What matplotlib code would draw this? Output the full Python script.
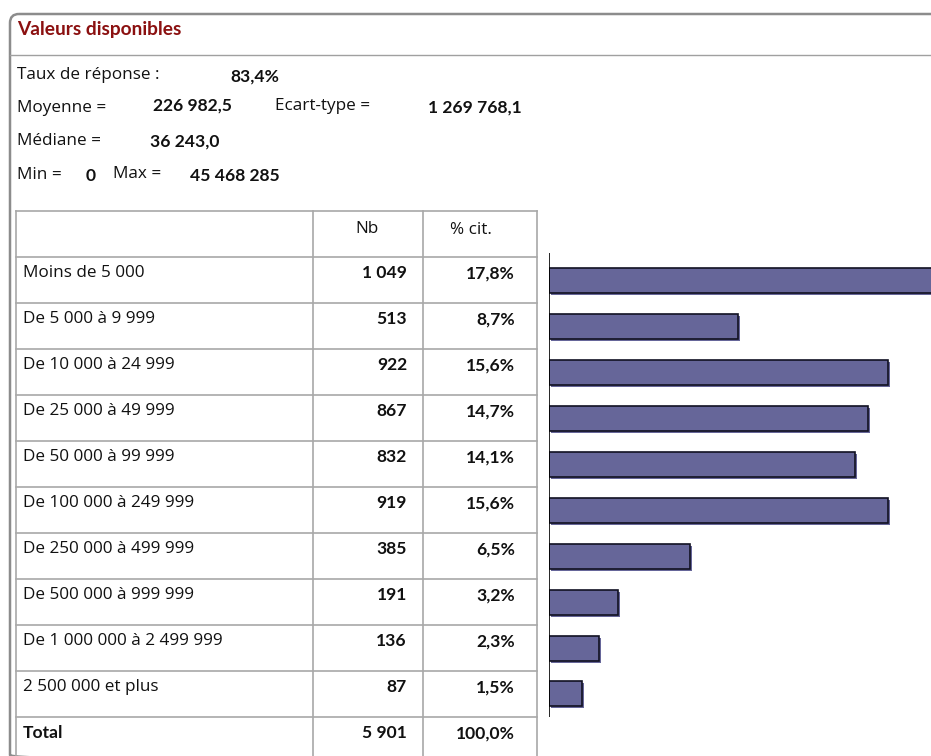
import matplotlib
matplotlib.use("Agg")
import matplotlib.pyplot as plt
from matplotlib.patches import FancyBboxPatch
from matplotlib import transforms

# ---------------- data ----------------
title = "Valeurs disponibles"
stat_labels = ["Taux de réponse :", "Moyenne =", "Ecart-type =", "Médiane =", "Min =", "Max ="]
stat_values = ["83,4%", "226 982,5", "1 269 768,1", "36 243,0", "0", "45 468 285"]
categories = ["Moins de 5 000", "De 5 000 à 9 999", "De 10 000 à 24 999", "De 25 000 à 49 999",
              "De 50 000 à 99 999", "De 100 000 à 249 999", "De 250 000 à 499 999",
              "De 500 000 à 999 999", "De 1 000 000 à 2 499 999", "2 500 000 et plus"]
counts = [1049, 513, 922, 867, 832, 919, 385, 191, 136, 87]
percents = [17.8, 8.7, 15.6, 14.7, 14.1, 15.6, 6.5, 3.2, 2.3, 1.5]
total_count = 5901
total_pct = 100.0
col_headers = ["Nb", "% cit."]

def fmt_int(v):
    return f"{v:,}".replace(",", " ")

def fmt_pct(v):
    return f"{v:.1f}%".replace(".", ",")

W, H = 931, 756
FONT = "Open Sans"
BFONT = "Lato"
fig = plt.figure(figsize=(W / 100, H / 100), dpi=100)
ax = fig.add_axes([0, 0, 1, 1])
ax.set_xlim(0, W)
ax.set_ylim(H, 0)
ax.axis("off")

grey = "#8c8c8c"
# frame
frame = FancyBboxPatch((10, 14), 960, 750, boxstyle="round,pad=0,rounding_size=9",
                       fill=False, edgecolor=grey, lw=1.8, clip_on=True)
ax.add_patch(frame)
ax.plot([10, W], [55, 55], color="#a0a0a0", lw=1)

ax.text(17, 30, title, color="#8b1010", fontsize=13.8, fontweight="bold",
        family=BFONT, va="center", ha="left")

fs = 12.3
fsb = 12.6
def lab(x, y, s, bold=False):
    ax.text(x, y, s, fontsize=fsb if bold else fs, family=BFONT if bold else FONT,
            va="center", ha="left", fontweight="bold" if bold else "normal", color="#111111")

lab(17, 75, stat_labels[0]); lab(230, 77, stat_values[0], True)
lab(17, 108, stat_labels[1]); lab(153, 106, stat_values[1], True)
lab(275, 106, stat_labels[2]); lab(428, 108, stat_values[2], True)
lab(17, 141, stat_labels[3]); lab(150, 142, stat_values[3], True)
lab(17, 175, stat_labels[4]); lab(86, 176, stat_values[4], True)
lab(113, 174, stat_labels[5]); lab(190, 176, stat_values[5], True)

# table
cols = [16, 313, 423, 537]
top, head_bot, row_h = 211, 257, 46
n = len(categories)
bottom = head_bot + row_h * (n + 1)
lc = "#a8a8a8"
for x in cols:
    ax.plot([x, x], [top, bottom], color=lc, lw=1.2, clip_on=True)
ax.plot([cols[0], cols[-1]], [top, top], color=lc, lw=1.2)
for i in range(n + 2):
    y = head_bot + i * row_h
    ax.plot([cols[0], cols[-1]], [y, y], color=lc, lw=1.2, clip_on=True)

ax.text(367, 229, col_headers[0], fontsize=fs, family=FONT, ha="center", va="center", color="#111111")
ax.text(471, 230, col_headers[1], fontsize=fs, family=FONT, ha="center", va="center", color="#111111")

rows_lab = categories + ["Total"]
rows_cnt = counts + [total_count]
rows_pct = percents + [total_pct]
for i, (c, v, p) in enumerate(zip(rows_lab, rows_cnt, rows_pct)):
    y = head_bot + i * row_h + 16
    is_tot = i == n
    ax.text(23, y, c, fontsize=fsb if is_tot else fs, family=BFONT if is_tot else FONT,
            ha="left", va="center", color="#111111", fontweight="bold" if is_tot else "normal")
    ax.text(407, y, fmt_int(v), fontsize=fsb, family=BFONT, ha="right", va="center",
            fontweight="bold", color="#111111")
    ax.text(515, y + 1, fmt_pct(p), fontsize=fsb, family=BFONT, ha="right", va="center",
            fontweight="bold", color="#111111")

# bar chart
x0, x1 = 549, W
ytop, ybot = 253, 717
bx = fig.add_axes([x0 / W, 1 - ybot / H, (x1 - x0) / W, (ybot - ytop) / H])
px_per_pct = 21.7
bx.set_xlim(0, (x1 - x0) / px_per_pct)
c0 = 280
bx.set_ylim((ybot - c0) / row_h, (ytop - c0) / row_h)
bx.axis("off")
bx.plot([0, 0], [(ybot - c0) / row_h, (ytop - c0) / row_h], color="black", lw=1.2, zorder=5)
ypos = list(range(n))
shadow = transforms.offset_copy(bx.transData, fig=fig, x=2, y=-2, units="dots")
bx.barh(ypos, percents, height=25 / row_h, color="#666699", edgecolor="#666699",
        lw=0, transform=shadow, zorder=2)
bx.barh(ypos, percents, height=25 / row_h, color="#666699", edgecolor="#111122",
        lw=1.2, zorder=3)

fig.savefig("out.png", dpi=100)
